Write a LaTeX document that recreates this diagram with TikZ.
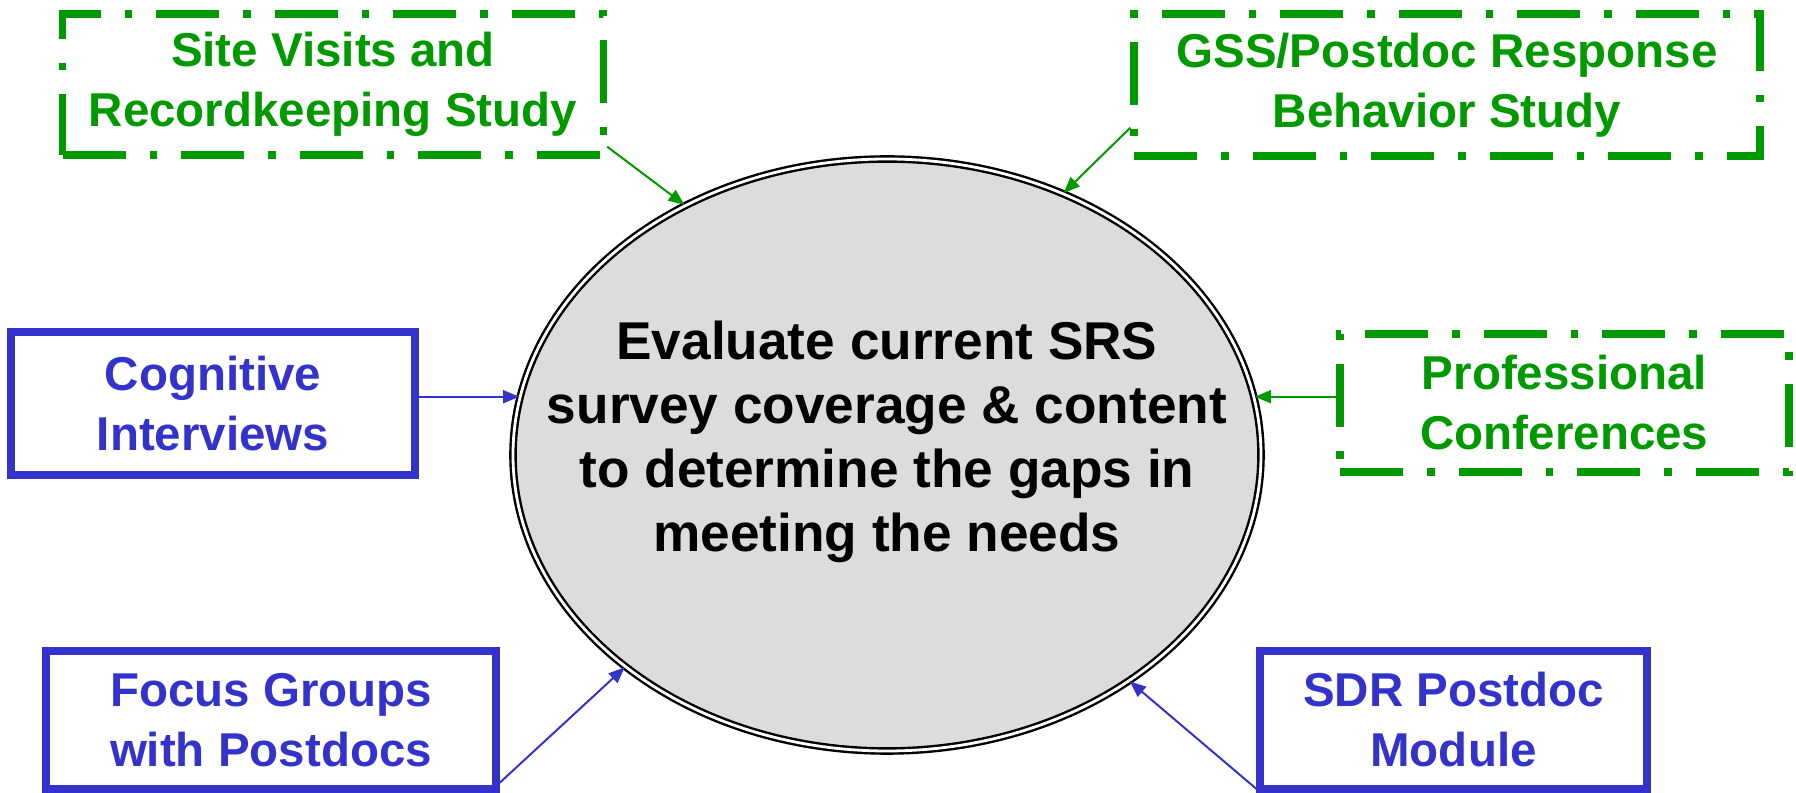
\documentclass[tikz,border=0pt]{standalone}
\usepackage{fontspec}
\setmainfont{Liberation Sans}
\usetikzlibrary{shapes.geometric,arrows.meta}
\definecolor{srsgreen}{RGB}{0,153,0}
\definecolor{srsblue}{RGB}{51,51,204}
\definecolor{ovalgray}{RGB}{220,220,220}
\begin{document}
\begin{tikzpicture}[x=0.5pt, y=0.5pt,
	boxtext/.style={align=center, inner sep=0pt, font=\bfseries\fontsize{23.75}{30}\selectfont},
	greenbox/.style={boxtext, draw=srsgreen, text=srsgreen, line width=3.75pt,
		dash pattern=on 31.5pt off 12pt on 3.75pt off 12pt},
	bluebox/.style={boxtext, draw=srsblue, text=srsblue, line width=3.75pt},
	greenarrow/.style={draw=srsgreen, line width=1pt, -{Triangle[length=8pt,width=6.5pt]}},
	bluearrow/.style={draw=srsblue, line width=1pt, -{Triangle[length=8pt,width=6.5pt]}}]
\useasboundingbox (0,0) rectangle (1796,793);
\node[ellipse, draw, double, double distance=1.4pt, line width=1.2pt, fill=ovalgray,
	minimum width=374pt, minimum height=296pt, inner sep=0pt] (ell) at (887,338) {};
\node[align=center, font=\bfseries\fontsize{26.6}{32}\selectfont] (goal) at (887,351)
	{Evaluate current SRS\\survey coverage \& content\\to determine the gaps in\\meeting the needs};

\node[greenbox, minimum width=270.5pt, minimum height=70.5pt] (site) at (333,708.5)
	{Site Visits and\\Recordkeeping Study};
\node[greenbox, minimum width=313pt, minimum height=71pt] (gss) at (1447,708)
	{GSS/Postdoc Response\\Behavior Study};
\node[bluebox, minimum width=202pt, minimum height=71.5pt] (cog) at (213,389.5)
	{Cognitive\\Interviews};
\node[greenbox, minimum width=224.5pt, minimum height=69pt] (prof) at (1564.5,390)
	{Professional\\Conferences};
\node[bluebox, minimum width=225pt, minimum height=69pt] (focus) at (271,73)
	{Focus Groups\\with Postdocs};
\node[bluebox, minimum width=193.5pt, minimum height=69pt] (sdr) at (1453.5,73)
	{SDR Postdoc\\Module};

\draw[greenarrow] ([yshift=6pt]site.south east) -- (ell.129);
\draw[greenarrow] ([yshift=16pt]gss.south west) -- (ell.56);
\draw[bluearrow] (cog.east |- ell.171) -- (ell.171);
\draw[greenarrow] (prof.west |- ell.9) -- (ell.9);
\draw[bluearrow] ([yshift=5pt]focus.south east) -- (ell.219);
\draw[bluearrow] ([yshift=2pt]sdr.south west) -- (ell.317);
\end{tikzpicture}
\end{document}
